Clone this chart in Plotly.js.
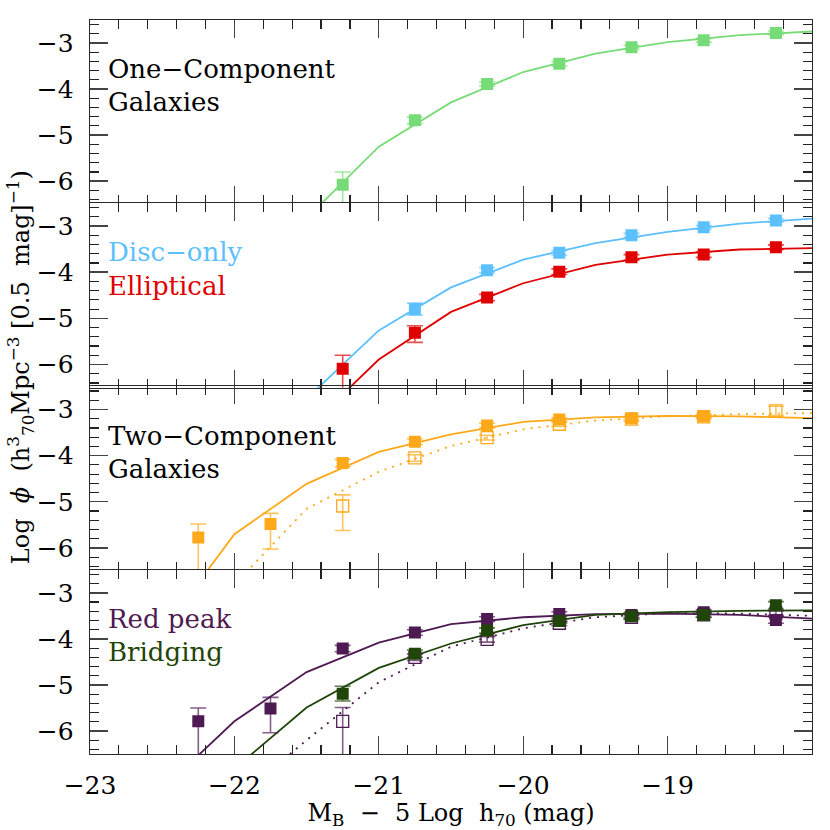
<!DOCTYPE html>
<html>
<head>
<meta charset="utf-8">
<script src="https://cdn.plot.ly/plotly-3.0.1.min.js"></script>
<style>
  html, body { margin: 0; padding: 0; background: #fff; }
  #plot { width: 830px; height: 830px; }
</style>
</head>
<body>
<div id="plot"></div>
<script>
// magnitude bins (data points) and the grid the fitted curves are sampled on
const bins   = [-22.25, -21.75, -21.25, -20.75, -20.25, -19.75, -19.25, -18.75, -18.25];
const curveX = [-22.5, -22.0, -21.5, -21.0, -20.5, -20.0, -19.5, -19.0, -18.5, -18.0];

// panel 1 : one-component galaxies
const oneY     = [null, null, -6.08, -4.68, -3.89, -3.45, -3.09, -2.94, -2.78];
const oneErrUp = [0, 0, 0.28, 0.07, 0.05, 0.05, 0.04, 0.04, 0.04];
const oneErrDn = [0, 0, 1.50, 0.07, 0.05, 0.05, 0.04, 0.04, 0.04];
const oneFit   = [null, null, -6.81, -5.25, -4.29, -3.63, -3.23, -2.98, -2.83, -2.75];

// panel 2 : disc-only and elliptical
const discY     = [null, null, null, -4.80, -3.96, -3.58, -3.20, -3.03, -2.88];
const discErrUp = [0, 0, 0, 0.13, 0.06, 0.05, 0.04, 0.04, 0.04];
const discErrDn = [0, 0, 0, 0.13, 0.06, 0.05, 0.04, 0.04, 0.04];
const discFit   = [null, null, -6.74, -5.26, -4.33, -3.73, -3.37, -3.13, -2.95, -2.84];

const ellY     = [null, null, -6.09, -5.31, -4.55, -3.99, -3.68, -3.62, -3.46];
const ellErrUp = [0, 0, 0.29, 0.15, 0.07, 0.06, 0.06, 0.06, 0.05];
const ellErrDn = [0, 0, 1.50, 0.21, 0.07, 0.06, 0.06, 0.06, 0.05];
const ellFit   = [null, null, -7.40, -5.89, -4.86, -4.24, -3.84, -3.62, -3.51, -3.48];

// panel 3 : two-component galaxies (filled) and open symbols
const twoY     = [-5.77, -5.48, -4.16, -3.70, -3.35, -3.22, -3.19, -3.14, null];
const twoErrUp = [0.29, 0.23, 0.08, 0.06, 0.05, 0.04, 0.04, 0.04, 0];
const twoErrDn = [1.50, 0.54, 0.08, 0.06, 0.05, 0.04, 0.04, 0.04, 0];
const twoFit   = [-7.80, -5.70, -4.61, -3.92, -3.54, -3.27, -3.17, -3.14, -3.15, -3.19];

const twoOpenY     = [null, null, -5.09, -4.05, -3.61, -3.32, -3.21, -3.16, -3.03];
const twoOpenErrUp = [0, 0, 0.24, 0.07, 0.05, 0.05, 0.04, 0.04, 0.10];
const twoOpenErrDn = [0, 0, 0.53, 0.07, 0.05, 0.05, 0.04, 0.04, 0.10];
const twoOpenFit   = [null, -6.79, -5.15, -4.35, -3.79, -3.43, -3.24, -3.15, -3.10, -3.08];

// panel 4 : red peak (filled + open) and bridging
const redY     = [-5.79, -5.51, -4.21, -3.86, -3.57, -3.46, -3.48, -3.42, -3.59];
const redErrUp = [0.29, 0.24, 0.07, 0.06, 0.05, 0.05, 0.05, 0.05, 0.07];
const redErrDn = [1.50, 0.53, 0.07, 0.06, 0.05, 0.05, 0.05, 0.05, 0.07];
const redFit   = [-7.27, -5.79, -4.72, -4.08, -3.68, -3.53, -3.46, -3.45, -3.48, -3.56];

const redOpenY     = [null, null, -5.79, -4.40, -4.01, -3.66, -3.53, -3.48, -3.44];
const redOpenErrUp = [0, 0, 0.30, 0.07, 0.06, 0.05, 0.05, 0.05, 0.05];
const redOpenErrDn = [0, 0, 1.50, 0.07, 0.06, 0.05, 0.05, 0.05, 0.05];
const redOpenFit   = [null, -7.50, -6.20, -4.94, -4.17, -3.77, -3.53, -3.44, -3.45, -3.50];

const bridgeY     = [null, null, -5.19, -4.32, -3.82, -3.61, -3.51, -3.48, -3.27];
const bridgeErrUp = [0, 0, 0.16, 0.08, 0.06, 0.05, 0.05, 0.05, 0.08];
const bridgeErrDn = [0, 0, 0.16, 0.08, 0.06, 0.05, 0.05, 0.05, 0.08];
const bridgeFit   = [null, -6.82, -5.49, -4.63, -4.10, -3.70, -3.48, -3.42, -3.39, -3.38];

// panel labels
const labels = [
  { panel: 1, text: 'One\u2212Component', color: '#000000', row: 0 },
  { panel: 1, text: 'Galaxies',           color: '#000000', row: 1 },
  { panel: 2, text: 'Disc\u2212only',     color: '#5cc0ff', row: 0 },
  { panel: 2, text: 'Elliptical',         color: '#e00000', row: 1 },
  { panel: 3, text: 'Two\u2212Component', color: '#000000', row: 0 },
  { panel: 3, text: 'Galaxies',           color: '#000000', row: 1 },
  { panel: 4, text: 'Red peak',           color: '#4e1a52', row: 0 },
  { panel: 4, text: 'Bridging',           color: '#1f4508', row: 1 },
];

const FONT = 'DejaVu Serif, serif';
const C = {
  green:  '#77dc77',
  blue:   '#5cc0ff',
  red:    '#e00000',
  orange: '#ffa91a',
  purple: '#4e1a52',
  dkgreen:'#1f4508',
};

const ax = ( n ) => n === 1 ? '' : String( n );

// hex -> rgba, error bars are drawn a bit lighter than the symbols
const fade = ( hex, a ) => {
  const v = parseInt( hex.slice( 1 ), 16 );
  return `rgba(${ v >> 16 },${ ( v >> 8 ) & 255 },${ v & 255 },${ a })`;
};

// fitted curve (solid or dotted)
const fitTrace = ( y, color, panel, dotted ) => ({
  x: curveX, y,
  xaxis: 'x' + ax( panel ), yaxis: 'y' + ax( panel ),
  type: 'scatter', mode: 'lines',
  line: { color, width: 1.8, dash: dotted ? '2px,6px' : 'solid' },
  hoverinfo: 'skip', showlegend: false, connectgaps: false,
});

// points with asymmetric error bars
const pointTrace = ( y, up, dn, color, panel, open ) => ({
  x: bins, y,
  xaxis: 'x' + ax( panel ), yaxis: 'y' + ax( panel ),
  type: 'scatter', mode: 'markers',
  marker: open
    ? { symbol: 'square-open', size: 12, color, line: { color, width: 1.3 } }
    : { symbol: 'square', size: 12, color, line: { width: 0 } },
  error_y: {
    type: 'data', symmetric: false, array: up, arrayminus: dn,
    color: fade( color, 0.7 ), thickness: 1.6, width: 8,
  },
  showlegend: false,
});

const data = [
  fitTrace( oneFit, C.green, 1 ),
  pointTrace( oneY, oneErrUp, oneErrDn, C.green, 1 ),

  fitTrace( discFit, C.blue, 2 ),
  fitTrace( ellFit, C.red, 2 ),
  pointTrace( discY, discErrUp, discErrDn, C.blue, 2 ),
  pointTrace( ellY, ellErrUp, ellErrDn, C.red, 2 ),

  fitTrace( twoOpenFit, C.orange, 3, true ),
  fitTrace( twoFit, C.orange, 3 ),
  pointTrace( twoOpenY, twoOpenErrUp, twoOpenErrDn, C.orange, 3, true ),
  pointTrace( twoY, twoErrUp, twoErrDn, C.orange, 3 ),

  fitTrace( redOpenFit, C.purple, 4, true ),
  fitTrace( redFit, C.purple, 4 ),
  fitTrace( bridgeFit, C.dkgreen, 4 ),
  pointTrace( redOpenY, redOpenErrUp, redOpenErrDn, C.purple, 4, true ),
  pointTrace( redY, redErrUp, redErrDn, C.purple, 4 ),
  pointTrace( bridgeY, bridgeErrUp, bridgeErrDn, C.dkgreen, 4 ),
];

/*
  axes: four stacked panels sharing one magnitude range,
  ticks inside and mirrored on every side
*/
const axisBase = {
  showline: true, linecolor: '#2a2a2a', linewidth: 1.3,
  mirror: 'ticks', ticks: 'inside', tickcolor: '#444',
  ticklen: 18, tickwidth: 1.3,
  showgrid: false, zeroline: false, fixedrange: true,
  tickfont: { family: FONT, size: 25, color: '#000' },
};
const minorTicks = { ticks: 'inside', dtick: 0.2, tick0: 0, ticklen: 9, tickwidth: 1.2, tickcolor: '#222' };

const layout = {
  width: 830, height: 830,
  margin: { l: 90, r: 18, t: 20, b: 76 },
  paper_bgcolor: '#fff', plot_bgcolor: '#fff',
  font: { family: FONT, color: '#000' },
  showlegend: false,
  annotations: [],
};

// panels overlap by one line width so the shared borders draw as one line
const ov = 0.0009;
const domains = [ [0.75 - ov, 1], [0.5 - ov, 0.75 + ov], [0.25 - ov, 0.5 + ov], [0, 0.25 + ov] ];

domains.forEach(( dom, i ) => {
  const n = i + 1;
  layout['xaxis' + ax( n )] = Object.assign({}, axisBase, {
    anchor: 'y' + ax( n ),
    range: [-23, -18.0],
    dtick: 1, tick0: 0,
    minor: minorTicks,
    showticklabels: n === 4,
    ticklabelstandoff: 9,
    matches: n === 1 ? undefined : 'x',
  });
  layout['yaxis' + ax( n )] = Object.assign({}, axisBase, {
    anchor: 'x' + ax( n ),
    domain: dom,
    range: [-6.5, -2.5],
    dtick: 1, tick0: 0,
    minor: minorTicks,
    ticklabelstandoff: 10,
  });
});

layout.xaxis4.title = {
  text: 'M<sub>B</sub>\u00a0\u00a0\u2212\u00a0\u00a05\u00a0Log\u00a0\u00a0h<sub>70</sub>\u00a0(mag)',
  font: { family: FONT, size: 24, color: '#000' },
  standoff: 12,
};

// y-axis title spanning the whole stack
layout.annotations.push({
  xref: 'paper', yref: 'paper',
  x: -0.097, y: 0.527,
  xanchor: 'center', yanchor: 'middle',
  textangle: -90, showarrow: false,
  text: 'Log\u00a0\u00a0<i>\u03d5</i>\u00a0\u00a0(h<sup>3</sup><sub>70</sub>Mpc<sup>\u22123</sup>\u00a0[0.5\u00a0\u00a0mag]<sup>\u22121</sup>)',
  font: { family: FONT, size: 24, color: '#000' },
});

// panel labels, two rows in every panel
const rowY = [ -3.57, -4.29 ];
labels.forEach(( lab ) => {
  layout.annotations.push({
    xref: 'x' + ax( lab.panel ), yref: 'y' + ax( lab.panel ),
    x: -22.89, y: rowY[ lab.row ],
    xanchor: 'left', yanchor: 'middle',
    showarrow: false,
    text: lab.text,
    font: { family: FONT, size: 26, color: lab.color },
  });
});

Plotly.newPlot( 'plot', data, layout, { displayModeBar: false, staticPlot: true });
</script>
</body>
</html>
